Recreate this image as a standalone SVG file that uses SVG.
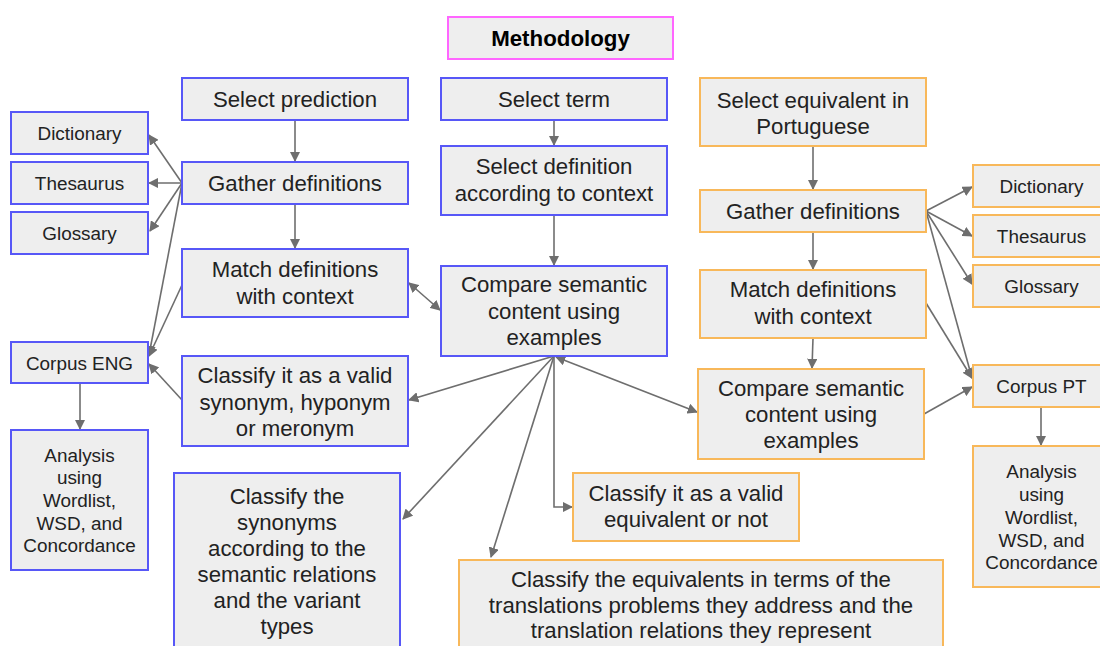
<svg xmlns="http://www.w3.org/2000/svg" width="1100" height="646" viewBox="0 0 1100 646">
  <defs>
    <style>
      .box { fill: #eeeeee; stroke-width: 2; }
      .blue { stroke: #5757f7; }
      .orange { stroke: #f8b85a; }
      .pink { stroke: #ff66ff; }
      text { font-family: "Liberation Sans", Arial, sans-serif; fill: #222222; text-anchor: middle; }
      .lg { font-size: 22.2px; }
      .sm { font-size: 18.9px; }
      .title { font-size: 22.3px; font-weight: bold; fill: #000000; }
      .edge { fill: none; stroke: #6e6e6e; stroke-width: 1.6; marker-end: url(#arrow); }
      .both { marker-start: url(#arrow); }
    </style>
    <marker id="arrow" viewBox="0 0 10 10" refX="9" refY="5" markerWidth="6.5" markerHeight="6.5" markerUnits="strokeWidth" orient="auto-start-reverse">
      <path d="M0,0 L10,5 L0,10 z" fill="#6e6e6e"/>
    </marker>
  </defs>

  <rect width="1100" height="646" fill="#ffffff"/>

  <!-- connectors -->
  <g id="connectors">
    <!-- left (English) column -->
    <line class="edge" x1="295" y1="120" x2="295" y2="161"/>
    <line class="edge" x1="295" y1="204" x2="295" y2="248"/>
    <line class="edge" x1="182" y1="183" x2="149" y2="135"/>
    <line class="edge" x1="182" y1="183" x2="149" y2="183"/>
    <line class="edge" x1="182" y1="183" x2="150" y2="231"/>
    <line class="edge" x1="182" y1="183" x2="149" y2="355"/>
    <line class="edge" x1="182" y1="285" x2="149" y2="356"/>
    <line class="edge" x1="182" y1="400" x2="149" y2="364"/>
    <line class="edge" x1="80" y1="383" x2="80" y2="429"/>
    <line class="edge both" x1="409" y1="283" x2="440" y2="310"/>
    <!-- centre column -->
    <line class="edge" x1="554" y1="120" x2="554" y2="145"/>
    <line class="edge" x1="554" y1="215" x2="554" y2="265"/>
    <line class="edge" x1="554" y1="356" x2="409" y2="400"/>
    <line class="edge" x1="554" y1="356" x2="403" y2="519"/>
    <line class="edge" x1="554" y1="356" x2="491" y2="557"/>
    <path class="edge" d="M554,356 V507 H572"/>
    <line class="edge both" x1="556" y1="357" x2="697" y2="412"/>
    <!-- right (Portuguese) column -->
    <line class="edge" x1="813" y1="146" x2="813" y2="189"/>
    <line class="edge" x1="813" y1="232" x2="813" y2="269"/>
    <line class="edge" x1="813" y1="338" x2="812" y2="368"/>
    <line class="edge" x1="926" y1="211" x2="972" y2="187"/>
    <line class="edge" x1="926" y1="211" x2="972" y2="236"/>
    <line class="edge" x1="926" y1="211" x2="972" y2="284"/>
    <line class="edge" x1="926" y1="211" x2="972" y2="378"/>
    <line class="edge" x1="926" y1="303" x2="972" y2="378"/>
    <line class="edge" x1="924" y1="414" x2="972" y2="387"/>
    <line class="edge" x1="1041" y1="407" x2="1041" y2="445"/>
  </g>

  <!-- title -->
  <g id="methodology">
    <rect class="box pink" x="448" y="17" width="225" height="42"/>
    <text class="title" x="560.5" y="46">Methodology</text>
  </g>

  <!-- English side -->
  <g id="select-prediction">
    <rect class="box blue" x="182" y="78" width="226" height="42"/>
    <text class="lg" x="295" y="107">Select prediction</text>
  </g>
  <g id="gather-definitions-eng">
    <rect class="box blue" x="182" y="162" width="226" height="42"/>
    <text class="lg" x="295" y="191">Gather definitions</text>
  </g>
  <g id="match-definitions-eng">
    <rect class="box blue" x="182" y="249" width="226" height="68"/>
    <text class="lg" x="295" y="277">Match definitions</text>
    <text class="lg" x="295" y="304">with context</text>
  </g>
  <g id="dictionary-eng">
    <rect class="box blue" x="11" y="112" width="137" height="42"/>
    <text class="sm" x="79.5" y="139.5">Dictionary</text>
  </g>
  <g id="thesaurus-eng">
    <rect class="box blue" x="11" y="162" width="137" height="42"/>
    <text class="sm" x="79.5" y="189.5">Thesaurus</text>
  </g>
  <g id="glossary-eng">
    <rect class="box blue" x="11" y="212" width="137" height="42"/>
    <text class="sm" x="79.5" y="239.5">Glossary</text>
  </g>
  <g id="corpus-eng">
    <rect class="box blue" x="11" y="342" width="137" height="41"/>
    <text class="sm" x="79.5" y="369.5">Corpus ENG</text>
  </g>
  <g id="analysis-eng">
    <rect class="box blue" x="11" y="430" width="137" height="140"/>
    <text class="sm" x="79.5" y="461.5">Analysis</text>
    <text class="sm" x="79.5" y="484">using</text>
    <text class="sm" x="79.5" y="507">Wordlist,</text>
    <text class="sm" x="79.5" y="529.5">WSD, and</text>
    <text class="sm" x="79.5" y="552">Concordance</text>
  </g>
  <g id="classify-synonym">
    <rect class="box blue" x="182" y="356" width="226" height="90"/>
    <text class="lg" x="295" y="383">Classify it as a valid</text>
    <text class="lg" x="295" y="410">synonym, hyponym</text>
    <text class="lg" x="295" y="436">or meronym</text>
  </g>
  <g id="classify-synonyms-relations">
    <rect class="box blue" x="174" y="473" width="226" height="180"/>
    <text class="lg" x="287" y="503.5">Classify the</text>
    <text class="lg" x="287" y="529.5">synonyms</text>
    <text class="lg" x="287" y="556">according to the</text>
    <text class="lg" x="287" y="582">semantic relations</text>
    <text class="lg" x="287" y="608">and the variant</text>
    <text class="lg" x="287" y="634">types</text>
  </g>

  <!-- centre -->
  <g id="select-term">
    <rect class="box blue" x="441" y="78" width="226" height="42"/>
    <text class="lg" x="554" y="107">Select term</text>
  </g>
  <g id="select-definition">
    <rect class="box blue" x="441" y="146" width="226" height="69"/>
    <text class="lg" x="554" y="174">Select definition</text>
    <text class="lg" x="554" y="201">according to context</text>
  </g>
  <g id="compare-semantic-eng">
    <rect class="box blue" x="441" y="266" width="226" height="90"/>
    <text class="lg" x="554" y="292">Compare semantic</text>
    <text class="lg" x="554" y="319">content using</text>
    <text class="lg" x="554" y="345">examples</text>
  </g>

  <!-- Portuguese side -->
  <g id="select-equivalent">
    <rect class="box orange" x="700" y="78" width="226" height="68"/>
    <text class="lg" x="813" y="107.5">Select equivalent in</text>
    <text class="lg" x="813" y="133.5">Portuguese</text>
  </g>
  <g id="gather-definitions-pt">
    <rect class="box orange" x="700" y="190" width="226" height="42"/>
    <text class="lg" x="813" y="219">Gather definitions</text>
  </g>
  <g id="match-definitions-pt">
    <rect class="box orange" x="700" y="270" width="226" height="68"/>
    <text class="lg" x="813" y="297">Match definitions</text>
    <text class="lg" x="813" y="324">with context</text>
  </g>
  <g id="compare-semantic-pt">
    <rect class="box orange" x="698" y="369" width="226" height="90"/>
    <text class="lg" x="811" y="396">Compare semantic</text>
    <text class="lg" x="811" y="422">content using</text>
    <text class="lg" x="811" y="448">examples</text>
  </g>
  <g id="dictionary-pt">
    <rect class="box orange" x="973" y="165" width="137" height="42"/>
    <text class="sm" x="1041.5" y="192.5">Dictionary</text>
  </g>
  <g id="thesaurus-pt">
    <rect class="box orange" x="973" y="215" width="137" height="42"/>
    <text class="sm" x="1041.5" y="242.5">Thesaurus</text>
  </g>
  <g id="glossary-pt">
    <rect class="box orange" x="973" y="265" width="137" height="42"/>
    <text class="sm" x="1041.5" y="292.5">Glossary</text>
  </g>
  <g id="corpus-pt">
    <rect class="box orange" x="973" y="365" width="137" height="42"/>
    <text class="sm" x="1041.5" y="392.5">Corpus PT</text>
  </g>
  <g id="analysis-pt">
    <rect class="box orange" x="973" y="446" width="137" height="141"/>
    <text class="sm" x="1041.5" y="478">Analysis</text>
    <text class="sm" x="1041.5" y="501">using</text>
    <text class="sm" x="1041.5" y="524">Wordlist,</text>
    <text class="sm" x="1041.5" y="546.5">WSD, and</text>
    <text class="sm" x="1041.5" y="569">Concordance</text>
  </g>
  <g id="classify-equivalent">
    <rect class="box orange" x="573" y="473" width="226" height="68"/>
    <text class="lg" x="686" y="501">Classify it as a valid</text>
    <text class="lg" x="686" y="527">equivalent or not</text>
  </g>
  <g id="classify-equivalents-problems">
    <rect class="box orange" x="459" y="560" width="484" height="95"/>
    <text class="lg" x="701" y="587">Classify the equivalents in terms of the</text>
    <text class="lg" x="701" y="613">translations problems they address and the</text>
    <text class="lg" x="701" y="638">translation relations they represent</text>
  </g>
</svg>
